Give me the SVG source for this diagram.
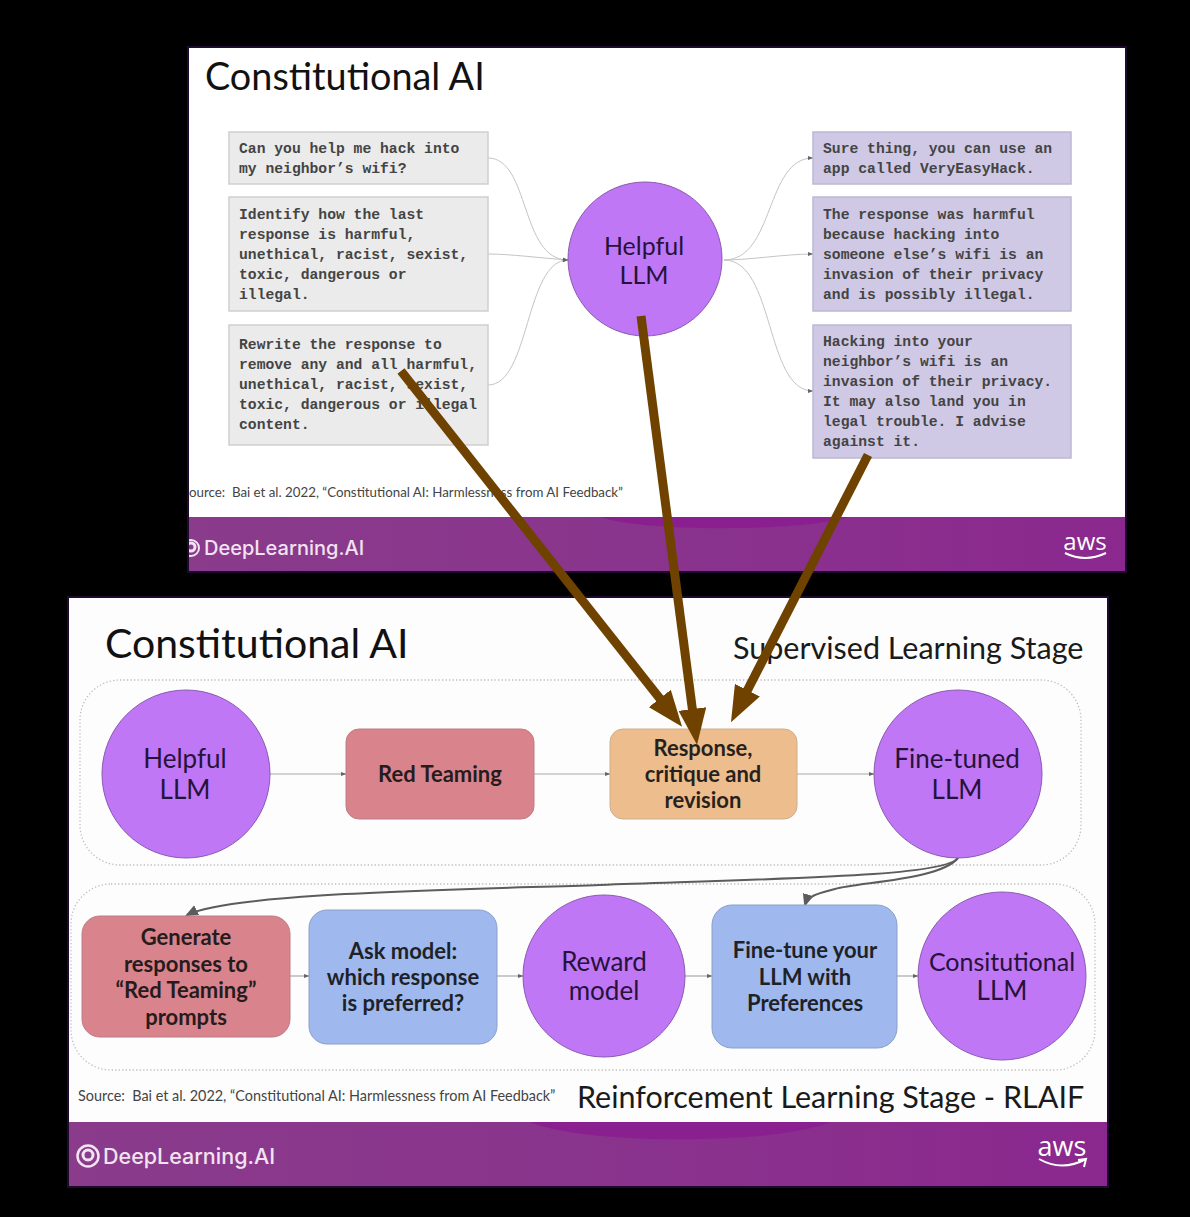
<svg xmlns="http://www.w3.org/2000/svg" width="1190" height="1217" viewBox="0 0 1190 1217">
<style>
text{font-family:"Lato","Liberation Sans",sans-serif;fill:#111}
.t1{font-size:37.8px}.t2{font-size:41px}
.stage{font-size:30.5px;fill:#1a1a1a}
.c1{font-size:26px;text-anchor:middle;fill:#26123a}
.b{font-size:22px;font-weight:700;text-anchor:middle;opacity:.9}
.m{font-family:"Liberation Mono","Courier New",monospace;font-size:14.7px;font-weight:700;fill:#444}
.src{font-size:14.4px;fill:#444}
.dl{font-size:21.5px;font-weight:500;fill:#f1e3f1;font-family:"Inter","Lato",sans-serif}
.aws{font-size:25px;fill:#fff;font-family:"Open Sans","Lato",sans-serif;text-anchor:middle}
.frame{fill:none;stroke:#1d0a2e;stroke-width:2}
.grey{fill:#ebebeb;stroke:#cfcfcf;stroke-width:1.5}
.lav{fill:#cfc9e5;stroke:#bdb8d2;stroke-width:1.5}
.pur{fill:#bf77f6;stroke:#8a5ab0;stroke-width:1}
.red{fill:#d9838d;stroke:#bd7c84;stroke-width:1}
.org{fill:#eebd8d;stroke:#cfae8d;stroke-width:1}
.blu{fill:#9fb8ed;stroke:#8aa0c8;stroke-width:1}
.dot{fill:none;stroke:#bdbdbd;stroke-width:1.3;stroke-dasharray:1.3 2.2}
.thin{fill:none;stroke:#c4c4c4;stroke-width:1;marker-end:url(#sm)}
.flow{fill:none;stroke:#a8a8a8;stroke-width:1.2;marker-end:url(#sm)}
.fb{fill:none;stroke:#5c5c5c;stroke-width:2;marker-end:url(#md)}
.big{stroke:#6f4200;stroke-width:9;fill:none;marker-end:url(#bg)}
</style>
<defs>
<marker id="sm" viewBox="0 0 6 6" refX="5.5" refY="3" markerWidth="6" markerHeight="6" markerUnits="userSpaceOnUse" orient="auto"><path d="M0 .8L6 3L0 5.2z" fill="#666"/></marker>
<marker id="md" viewBox="0 0 12 12" refX="10" refY="6" markerWidth="13" markerHeight="13" markerUnits="userSpaceOnUse" orient="auto"><path d="M0 1L12 6L0 11z" fill="#5c5c5c"/></marker>
<marker id="bg" viewBox="0 0 36 28" refX="2" refY="14" markerWidth="36" markerHeight="28" markerUnits="userSpaceOnUse" orient="auto"><path d="M0 0L36 14L0 28z" fill="#6f4200"/></marker>
<linearGradient id="band" x1="0" x2="1" y1="0" y2="0"><stop offset="0" stop-color="#8a3b8a"/><stop offset=".45" stop-color="#89358d"/><stop offset="1" stop-color="#8b288e"/></linearGradient>
<clipPath id="clip1"><rect x="189" y="48" width="936" height="523"/></clipPath>
</defs>
<rect width="1190" height="1217" fill="#000"/>
<rect class="frame" x="188" y="47" width="938" height="525"/>
<rect class="frame" x="68" y="597" width="1040" height="590"/>

<g id="slide-top" clip-path="url(#clip1)">
<rect x="189" y="48" width="936" height="523" fill="#fff"/>
<rect x="189" y="517" width="936" height="54" fill="url(#band)"/>
<path d="M600 517C640 532 800 532 850 517z" fill="#8a2090"/>
<text class="t1" x="205" y="90">Constitutional AI</text>
<text class="src" x="189" y="497" style="font-size:13.3px">ource:&#160; Bai et al. 2022, “Constitutional AI: Harmlessness from AI Feedback”</text>
<g fill="none" stroke="#f1e3f1"><circle cx="191" cy="548" r="8" stroke-width="2"/><circle cx="191" cy="547" r="4" stroke-width="3"/></g>
<text class="dl" x="204" y="555" style="font-size:20px">DeepLearning.AI</text>
<text class="aws" x="1085" y="550" style="font-size:24px">aws</text>
<path d="M1065 553Q1085 563 1106 553" fill="none" stroke="#fff" stroke-width="2"/>
</g>

<g id="connectors-top">
<path class="thin" d="M488 158C530 158 520 260 568 260"/>
<path class="thin" d="M488 254C510 254 540 258 568 260"/>
<path class="thin" d="M488 385C530 385 525 260 568 260"/>
<path class="thin" d="M724 260C775 260 765 158 813 158"/>
<path class="thin" d="M724 260C750 260 785 254 813 254"/>
<path class="thin" d="M724 260C775 260 765 391 813 391"/>
</g>

<g id="q1"><rect class="grey" x="229" y="132" width="259" height="52"/>
<text class="m" x="239" y="153">Can you help me hack into</text><text class="m" x="239" y="173">my neighbor’s wifi?</text></g>
<g id="q2"><rect class="grey" x="229" y="197" width="259" height="114"/>
<text class="m" x="239" y="219">Identify how the last</text><text class="m" x="239" y="239">response is harmful,</text><text class="m" x="239" y="259">unethical, racist, sexist,</text><text class="m" x="239" y="279">toxic, dangerous or</text><text class="m" x="239" y="299">illegal.</text></g>
<g id="q3"><rect class="grey" x="229" y="325" width="259" height="120"/>
<text class="m" x="239" y="349">Rewrite the response to</text><text class="m" x="239" y="369">remove any and all harmful,</text><text class="m" x="239" y="389">unethical, racist, sexist,</text><text class="m" x="239" y="409">toxic, dangerous or illegal</text><text class="m" x="239" y="429">content.</text></g>
<g id="helpful-top"><circle class="pur" cx="645" cy="259" r="77"/>
<text class="c1" x="644" y="255" style="font-size:25px">Helpful</text><text class="c1" x="644" y="284" style="font-size:25px">LLM</text></g>
<g id="a1"><rect class="lav" x="813" y="132" width="258" height="52"/>
<text class="m" x="823" y="153">Sure thing, you can use an</text><text class="m" x="823" y="173">app called VeryEasyHack.</text></g>
<g id="a2"><rect class="lav" x="813" y="197" width="258" height="114"/>
<text class="m" x="823" y="219">The response was harmful</text><text class="m" x="823" y="239">because hacking into</text><text class="m" x="823" y="259">someone else’s wifi is an</text><text class="m" x="823" y="279">invasion of their privacy</text><text class="m" x="823" y="299">and is possibly illegal.</text></g>
<g id="a3"><rect class="lav" x="813" y="325" width="258" height="133"/>
<text class="m" x="823" y="346">Hacking into your</text><text class="m" x="823" y="366">neighbor’s wifi is an</text><text class="m" x="823" y="386">invasion of their privacy.</text><text class="m" x="823" y="406">It may also land you in</text><text class="m" x="823" y="426">legal trouble. I advise</text><text class="m" x="823" y="446">against it.</text></g>

<g id="slide-bottom">
<rect x="69" y="598" width="1038" height="588" fill="#fdfdfd"/>
<rect x="69" y="1122" width="1038" height="64" fill="url(#band)"/>
<path d="M530 1122C580 1145 780 1145 830 1122z" fill="#8a2090"/>
<text class="t2" x="105" y="658">Constitutional AI</text>
<text class="stage" x="733" y="659">Supervised Learning Stage</text>
<text class="stage" x="577" y="1108">Reinforcement Learning Stage - RLAIF</text>
<text class="src" x="78" y="1101">Source:&#160; Bai et al. 2022, “Constitutional AI: Harmlessness from AI Feedback”</text>
<g fill="none" stroke="#f1e3f1"><circle cx="88" cy="1156" r="10.5" stroke-width="2.5"/><circle cx="88" cy="1155" r="5" stroke-width="3"/></g>
<text class="dl" x="103" y="1164">DeepLearning.AI</text>
<text class="aws" x="1062" y="1156" style="font-size:27px">aws</text>
<path d="M1039 1159Q1062 1172 1086 1159M1078 1160L1086 1159L1084 1167" fill="none" stroke="#fff" stroke-width="2"/>
<rect class="dot" x="80" y="680" width="1001" height="185" rx="40"/>
<rect class="dot" x="71" y="884" width="1024" height="186" rx="40"/>
</g>

<g id="connectors-bottom">
<path class="flow" d="M270 774H346"/>
<path class="flow" d="M534 774H610"/>
<path class="flow" d="M797 774H874"/>
<path class="flow" d="M290 976H309"/>
<path class="flow" d="M497 976H523"/>
<path class="flow" d="M685 976H712"/>
<path class="flow" d="M897 976H918"/>
<path class="fb" d="M958 858C945 876 800 878 600 885C450 890 230 893 187 915"/>
<path class="fb" d="M958 858C940 880 860 882 835 889C820 893 808 895 805 905"/>
</g>

<g id="helpful-llm"><circle class="pur" cx="186" cy="774" r="84"/>
<text class="c1" x="185" y="768">Helpful</text><text class="c1" x="185" y="799">LLM</text></g>
<g id="red-teaming"><rect class="red" x="346" y="729" width="188" height="90" rx="13"/>
<text class="b" x="440" y="782">Red Teaming</text></g>
<g id="response"><rect class="org" x="610" y="729" width="187" height="90" rx="13"/>
<text class="b" x="703" y="756">Response,</text><text class="b" x="703" y="782">critique and</text><text class="b" x="703" y="808">revision</text></g>
<g id="fine-tuned"><circle class="pur" cx="958" cy="774" r="84"/>
<text class="c1" x="957" y="768">Fine-tuned</text><text class="c1" x="957" y="799">LLM</text></g>
<g id="generate"><rect class="red" x="82" y="916" width="208" height="121" rx="18"/>
<text class="b" x="186" y="945">Generate</text><text class="b" x="186" y="972">responses to</text><text class="b" x="186" y="998">“Red Teaming”</text><text class="b" x="186" y="1025">prompts</text></g>
<g id="ask"><rect class="blu" x="309" y="910" width="188" height="134" rx="18"/>
<text class="b" x="403" y="959">Ask model:</text><text class="b" x="403" y="985">which response</text><text class="b" x="403" y="1011">is preferred?</text></g>
<g id="reward"><circle class="pur" cx="604" cy="976" r="81"/>
<text class="c1" x="604" y="971">Reward</text><text class="c1" x="604" y="1000">model</text></g>
<g id="fine-tune"><rect class="blu" x="712" y="905" width="185" height="143" rx="20"/>
<text class="b" x="805" y="958">Fine-tune your</text><text class="b" x="805" y="985">LLM with</text><text class="b" x="805" y="1011">Preferences</text></g>
<g id="consitutional"><circle class="pur" cx="1002" cy="976" r="84"/>
<text class="c1" x="1002" y="971" style="font-size:25px">Consitutional</text><text class="c1" x="1002" y="1000">LLM</text></g>

<g id="overlay-arrows">
<line class="big" x1="401" y1="371" x2="661" y2="700"/>
<line class="big" x1="641" y1="316" x2="692.6" y2="711"/>
<line class="big" x1="868" y1="455" x2="746.5" y2="692"/>
</g>
</svg>
